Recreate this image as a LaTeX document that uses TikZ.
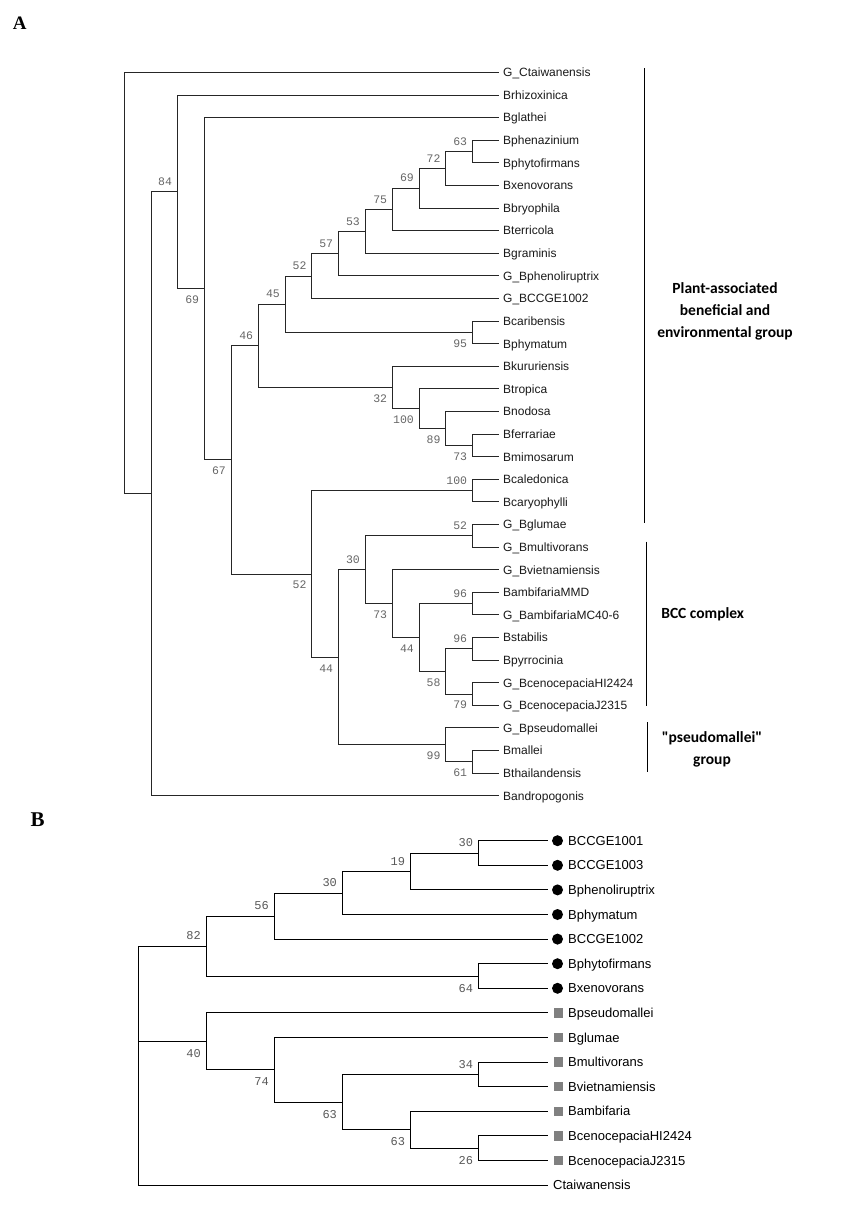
\documentclass[tikz,border=0pt]{standalone}
\usepackage{fontspec}
\setmainfont{Liberation Serif}
\setsansfont{Liberation Sans}
\newfontfamily\bootfont{Liberation Mono}
\newfontfamily\groupfont{Carlito}
\usetikzlibrary{positioning}

\begin{document}
\begin{tikzpicture}[
    x = 1pt, y = -1pt,
    tree/.style = {line width = 0.9pt, draw = black!85},
    treeb/.style = {line width = 0.9pt, draw = black},
    leafa/.style = {
      anchor = west, inner xsep = 4pt, inner ysep = 0pt,
      text height = 8.6pt, text depth = 0pt, text = black!90,
      font = \sffamily\fontsize{12}{14}\selectfont,
    },
    leafb/.style = {
      anchor = west, inner xsep = 2pt, inner ysep = 0pt,
      text height = 9.3pt, text depth = 0pt,
      font = \sffamily\fontsize{13}{15}\selectfont,
    },
    boot/.style = {inner sep = 0pt, text = black!60,
      font = \bootfont\fontsize{11.5}{13}\selectfont},
    bootb/.style = {inner sep = 0pt, text = black!65,
      font = \bootfont\fontsize{12}{14}\selectfont},
    dot/.style = {circle, fill = black, inner sep = 0pt,
      minimum size = 11pt, outer sep = 4pt},
    box/.style = {rectangle, fill = black!50, inner sep = 0pt,
      minimum size = 9.5pt, outer sep = 5.9pt},
    grp/.style = {line width = 0.9pt},
    grptext/.style = {align = center,
      font = \groupfont\bfseries\fontsize{15.5}{22}\selectfont},
    panel/.style = {anchor = base west, inner sep = 0pt,
      font = \bfseries\fontsize{19}{22}\selectfont},
  ]
  \useasboundingbox (0,0) rectangle (845,1206);

  \node[panel] (pa) at (12.7,29.3) {A};
  \node[panel, font = \bfseries\fontsize{21}{24}\selectfont] (pb) at (30.5,826) {B};

  % tree A, leaves
  \node[leafa] (ctai) at (499,72.5) {G\_Ctaiwanensis};
  \node[leafa] (brhi) at (499,95.1) {Brhizoxinica};
  \node[leafa] (bgla) at (499,117.7) {Bglathei};
  \node[leafa] (bphe) at (499,140.3) {Bphenazinium};
  \node[leafa] (bphy) at (499,162.9) {Bphytofirmans};
  \node[leafa] (bxen) at (499,185.5) {Bxenovorans};
  \node[leafa] (bbry) at (499,208.1) {Bbryophila};
  \node[leafa] (bter) at (499,230.7) {Bterricola};
  \node[leafa] (bgra) at (499,253.3) {Bgraminis};
  \node[leafa] (gbph) at (499,275.9) {G\_Bphenoliruptrix};
  \node[leafa] (gbcc) at (499,298.5) {G\_BCCGE1002};
  \node[leafa] (bcar) at (499,321.1) {Bcaribensis};
  \node[leafa] (bpym) at (499,343.7) {Bphymatum};
  \node[leafa] (bkur) at (499,366.3) {Bkururiensis};
  \node[leafa] (btro) at (499,388.9) {Btropica};
  \node[leafa] (bnod) at (499,411.5) {Bnodosa};
  \node[leafa] (bfer) at (499,434.1) {Bferrariae};
  \node[leafa] (bmim) at (499,456.7) {Bmimosarum};
  \node[leafa] (bcal) at (499,479.3) {Bcaledonica};
  \node[leafa] (bcay) at (499,501.9) {Bcaryophylli};
  \node[leafa] (gbgl) at (499,524.5) {G\_Bglumae};
  \node[leafa] (gbmu) at (499,547.1) {G\_Bmultivorans};
  \node[leafa] (gbvi) at (499,569.7) {G\_Bvietnamiensis};
  \node[leafa] (bamm) at (499,592.3) {BambifariaMMD};
  \node[leafa] (gbam) at (499,614.9) {G\_BambifariaMC40-6};
  \node[leafa] (bsta) at (499,637.5) {Bstabilis};
  \node[leafa] (bpyr) at (499,660.1) {Bpyrrocinia};
  \node[leafa] (gbch) at (499,682.7) {G\_BcenocepaciaHI2424};
  \node[leafa] (gbcj) at (499,705.3) {G\_BcenocepaciaJ2315};
  \node[leafa] (gbps) at (499,727.9) {G\_Bpseudomallei};
  \node[leafa] (bmal) at (499,750.5) {Bmallei};
  \node[leafa] (btha) at (499,773.1) {Bthailandensis};
  \node[leafa] (band) at (499,795.7) {Bandropogonis};

  % tree A, inner nodes
  \coordinate (a0) at (124.3,283.15);
  \coordinate (a1) at (151,493.8);
  \coordinate (a2) at (177.7,191.95);
  \coordinate (a3) at (204.3,288.8);
  \coordinate (a4) at (231,459.9);
  \coordinate (a5) at (258.3,345.9);
  \coordinate (a6) at (285,304.25);
  \coordinate (a7) at (311.7,276.1);
  \coordinate (a8) at (338.3,253.65);
  \coordinate (a9) at (365,231.4);
  \coordinate (a10) at (392.3,209.5);
  \coordinate (a11) at (419,188.3);
  \coordinate (a12) at (445.7,168.55);
  \coordinate (a13) at (472.3,151.6);
  \coordinate (a14) at (472.3,332.4);
  \coordinate (a15) at (392.3,387.5);
  \coordinate (a16) at (419,408.7);
  \coordinate (a17) at (445.7,428.45);
  \coordinate (a18) at (472.3,445.4);
  \coordinate (a19) at (311.7,573.95);
  \coordinate (a20) at (472.3,490.6);
  \coordinate (a21) at (338.3,657.3);
  \coordinate (a22) at (365,569.7);
  \coordinate (a23) at (472.3,535.8);
  \coordinate (a24) at (392.3,603.6);
  \coordinate (a25) at (419,637.5);
  \coordinate (a26) at (472.3,603.6);
  \coordinate (a27) at (445.7,671.4);
  \coordinate (a28) at (472.3,648.8);
  \coordinate (a29) at (472.3,694);
  \coordinate (a30) at (445.7,744.85);
  \coordinate (a31) at (472.3,761.8);

  \begin{scope}[tree]
    \draw (a0) |- (ctai.west);
    \draw (a0) |- (a1);
    \draw (a1) |- (a2);
    \draw (a1) |- (band.west);
    \draw (a2) |- (brhi.west);
    \draw (a2) |- (a3);
    \draw (a3) |- (bgla.west);
    \draw (a3) |- (a4);
    \draw (a4) |- (a5);
    \draw (a4) |- (a19);
    \draw (a5) |- (a6);
    \draw (a5) |- (a15);
    \draw (a6) |- (a7);
    \draw (a6) |- (a14);
    \draw (a7) |- (a8);
    \draw (a7) |- (gbcc.west);
    \draw (a8) |- (a9);
    \draw (a8) |- (gbph.west);
    \draw (a9) |- (a10);
    \draw (a9) |- (bgra.west);
    \draw (a10) |- (a11);
    \draw (a10) |- (bter.west);
    \draw (a11) |- (a12);
    \draw (a11) |- (bbry.west);
    \draw (a12) |- (a13);
    \draw (a12) |- (bxen.west);
    \draw (a13) |- (bphe.west);
    \draw (a13) |- (bphy.west);
    \draw (a14) |- (bcar.west);
    \draw (a14) |- (bpym.west);
    \draw (a15) |- (bkur.west);
    \draw (a15) |- (a16);
    \draw (a16) |- (btro.west);
    \draw (a16) |- (a17);
    \draw (a17) |- (bnod.west);
    \draw (a17) |- (a18);
    \draw (a18) |- (bfer.west);
    \draw (a18) |- (bmim.west);
    \draw (a19) |- (a20);
    \draw (a19) |- (a21);
    \draw (a20) |- (bcal.west);
    \draw (a20) |- (bcay.west);
    \draw (a21) |- (a22);
    \draw (a21) |- (a30);
    \draw (a22) |- (a23);
    \draw (a22) |- (a24);
    \draw (a23) |- (gbgl.west);
    \draw (a23) |- (gbmu.west);
    \draw (a24) |- (gbvi.west);
    \draw (a24) |- (a25);
    \draw (a25) |- (a26);
    \draw (a25) |- (a27);
    \draw (a26) |- (bamm.west);
    \draw (a26) |- (gbam.west);
    \draw (a27) |- (a28);
    \draw (a27) |- (a29);
    \draw (a28) |- (bsta.west);
    \draw (a28) |- (bpyr.west);
    \draw (a29) |- (gbch.west);
    \draw (a29) |- (gbcj.west);
    \draw (a30) |- (gbps.west);
    \draw (a30) |- (a31);
    \draw (a31) |- (bmal.west);
    \draw (a31) |- (btha.west);
  \end{scope}

  % tree A, bootstrap values
  \node[boot, above left = 6pt and 5.5pt of a2] (l2) {84};
  \node[boot, below left = 7pt and 5pt of a3] (l3) {69};
  \node[boot, below left = 7pt and 5pt of a4] (l4) {67};
  \node[boot, above left = 6pt and 5pt of a5] (l5) {46};
  \node[boot, above left = 6pt and 5pt of a6] (l6) {45};
  \node[boot, above left = 6pt and 5pt of a7] (l7) {52};
  \node[boot, above left = 6pt and 5pt of a8] (l8) {57};
  \node[boot, above left = 6pt and 5pt of a9] (l9) {53};
  \node[boot, above left = 6pt and 5pt of a10] (l10) {75};
  \node[boot, above left = 6pt and 5pt of a11] (l11) {69};
  \node[boot, above left = 6pt and 5pt of a12] (l12) {72};
  \node[boot, above left = 6pt and 5pt of a13] (l13) {63};
  \node[boot, below left = 7pt and 5pt of a14] (l14) {95};
  \node[boot, below left = 7pt and 5pt of a15] (l15) {32};
  \node[boot, below left = 7pt and 5pt of a16] (l16) {100};
  \node[boot, below left = 7pt and 5pt of a17] (l17) {89};
  \node[boot, below left = 7pt and 5pt of a18] (l18) {73};
  \node[boot, below left = 7pt and 5pt of a19] (l19) {52};
  \node[boot, above left = 6pt and 5pt of a20] (l20) {100};
  \node[boot, below left = 7pt and 5pt of a21] (l21) {44};
  \node[boot, above left = 6pt and 5pt of a22] (l22) {30};
  \node[boot, above left = 6pt and 5pt of a23] (l23) {52};
  \node[boot, below left = 7pt and 5pt of a24] (l24) {73};
  \node[boot, below left = 7pt and 5pt of a25] (l25) {44};
  \node[boot, above left = 6pt and 5pt of a26] (l26) {96};
  \node[boot, below left = 7pt and 5pt of a27] (l27) {58};
  \node[boot, above left = 6pt and 5pt of a28] (l28) {96};
  \node[boot, below left = 7pt and 5pt of a29] (l29) {79};
  \node[boot, below left = 7pt and 5pt of a30] (l30) {99};
  \node[boot, below left = 7pt and 5pt of a31] (l31) {61};

  % groups of tree A
  \draw[grp] (644.3,68.3) -- (644.3,523.3);
  \draw[grp] (646.7,541.7) -- (646.7,706);
  \draw[grp] (647.3,722) -- (647.3,771.7);
  \node[grptext] (plant) at (725,311.5)
    {Plant-associated\\beneficial and\\environmental group};
  \node[grptext] (bcc) at (702.7,614.3) {BCC complex};
  \node[grptext] (pseu) at (712,749) {"pseudomallei"\\group};

  % tree B, leaves
  \node[dot] (q1) at (557.5,840.7) {};
  \node[dot] (q2) at (557.5,865.3) {};
  \node[dot] (q3) at (557.5,889.9) {};
  \node[dot] (q4) at (557.5,914.5) {};
  \node[dot] (q5) at (557.5,939.1) {};
  \node[dot] (q6) at (557.5,963.7) {};
  \node[dot] (q7) at (557.5,988.3) {};
  \node[box] (q8) at (558.7,1012.9) {};
  \node[box] (q9) at (558.7,1037.5) {};
  \node[box] (q10) at (558.7,1062.1) {};
  \node[box] (q11) at (558.7,1086.7) {};
  \node[box] (q12) at (558.7,1111.3) {};
  \node[box] (q13) at (558.7,1135.9) {};
  \node[box] (q14) at (558.7,1160.5) {};
  \node[leafb] (t1) at (566,840.7) {BCCGE1001};
  \node[leafb] (t2) at (566,865.3) {BCCGE1003};
  \node[leafb] (t3) at (566,889.9) {Bphenoliruptrix};
  \node[leafb] (t4) at (566,914.5) {Bphymatum};
  \node[leafb] (t5) at (566,939.1) {BCCGE1002};
  \node[leafb] (t6) at (566,963.7) {Bphytofirmans};
  \node[leafb] (t7) at (566,988.3) {Bxenovorans};
  \node[leafb] (t8) at (566,1012.9) {Bpseudomallei};
  \node[leafb] (t9) at (566,1037.5) {Bglumae};
  \node[leafb] (t10) at (566,1062.1) {Bmultivorans};
  \node[leafb] (t11) at (566,1086.7) {Bvietnamiensis};
  \node[leafb] (t12) at (566,1111.3) {Bambifaria};
  \node[leafb] (t13) at (566,1135.9) {BcenocepaciaHI2424};
  \node[leafb] (t14) at (566,1160.5) {BcenocepaciaJ2315};
  \node[leafb, inner xsep = 5pt] (ctb) at (548,1185.1) {Ctaiwanensis};

  % tree B, inner nodes
  \coordinate (b0) at (138.3,1065.6);
  \coordinate (b1) at (206.4,946.02);
  \coordinate (b2) at (206.4,1041.35);
  \coordinate (b3) at (274.5,916.04);
  \coordinate (b4) at (342.6,892.98);
  \coordinate (b5) at (410.7,871.45);
  \coordinate (b6) at (478.8,853);
  \coordinate (b7) at (478.8,976);
  \coordinate (b8) at (274.5,1069.8);
  \coordinate (b9) at (342.6,1102.1);
  \coordinate (b10) at (478.8,1074.4);
  \coordinate (b11) at (410.7,1129.75);
  \coordinate (b12) at (478.8,1148.2);

  \begin{scope}[treeb]
    \draw (b0) |- (b1);
    \draw (b0) |- (b2);
    \draw (b0) |- (ctb.west);
    \draw (b1) |- (b3);
    \draw (b1) |- (b7);
    \draw (b3) |- (b4);
    \draw (b3) |- (q5.west);
    \draw (b4) |- (b5);
    \draw (b4) |- (q4.west);
    \draw (b5) |- (b6);
    \draw (b5) |- (q3.west);
    \draw (b6) |- (q1.west);
    \draw (b6) |- (q2.west);
    \draw (b7) |- (q6.west);
    \draw (b7) |- (q7.west);
    \draw (b2) |- (q8.west);
    \draw (b2) |- (b8);
    \draw (b8) |- (q9.west);
    \draw (b8) |- (b9);
    \draw (b9) |- (b10);
    \draw (b9) |- (b11);
    \draw (b10) |- (q10.west);
    \draw (b10) |- (q11.west);
    \draw (b11) |- (q12.west);
    \draw (b11) |- (b12);
    \draw (b12) |- (q13.west);
    \draw (b12) |- (q14.west);
  \end{scope}

  % tree B, bootstrap values
  \node[bootb, above left = 6pt and 5.5pt of b1] (k1) {82};
  \node[bootb, below left = 8pt and 5.5pt of b2] (k2) {40};
  \node[bootb, above left = 6pt and 5.5pt of b3] (k3) {56};
  \node[bootb, above left = 6pt and 5.5pt of b4] (k4) {30};
  \node[bootb, above left = 6pt and 5.5pt of b5] (k5) {19};
  \node[bootb, above left = 6pt and 5.5pt of b6] (k6) {30};
  \node[bootb, below left = 8pt and 5.5pt of b7] (k7) {64};
  \node[bootb, below left = 8pt and 5.5pt of b8] (k8) {74};
  \node[bootb, below left = 8pt and 5.5pt of b9] (k9) {63};
  \node[bootb, above left = 6pt and 5.5pt of b10] (k10) {34};
  \node[bootb, below left = 8pt and 5.5pt of b11] (k11) {63};
  \node[bootb, below left = 8pt and 5.5pt of b12] (k12) {26};
\end{tikzpicture}
\end{document}
